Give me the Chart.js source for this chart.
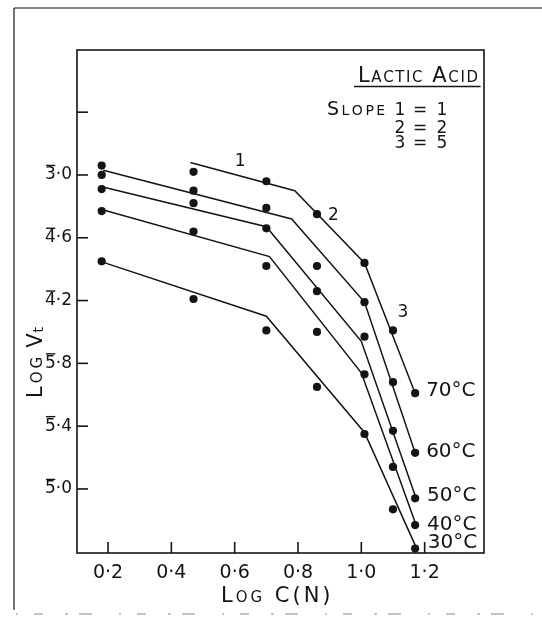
<!DOCTYPE html>
<html>
<head>
<meta charset="utf-8">
<script src="https://cdn.jsdelivr.net/npm/chart.js@4.4.1/dist/chart.umd.min.js"></script>
<style>
  html, body { margin: 0; padding: 0; background: #fff; }
</style>
</head>
<body>
<canvas id="myChart" width="542" height="623"></canvas>
<script>
//log C (N) of the measured columns
let logC = [0.18, 0.47, 0.70, 0.86, 1.01, 1.10, 1.17];

//measured log Vt, one list per temperature
let vt70 = [-2.94, -2.98, -3.04, -3.25, -3.56, -3.99, -4.39];
let vt60 = [-3.00, -3.10, -3.21, -3.58, -3.81, -4.32, -4.77];
let vt50 = [-3.09, -3.18, -3.34, -3.74, -4.03, -4.63, -5.06];
let vt40 = [-3.23, -3.36, -3.58, -4.00, -4.27, -4.86, -5.23];
let vt30 = [-3.55, -3.79, -3.99, -4.35, -4.65, -5.13, -5.38];

//drawn lines, three straight pieces each (slopes 1, 2, 5)
let fitX70 = [0.46, 0.79, 1.01, 1.17];
let fitY70 = [-2.92, -3.10, -3.56, -4.39];
let fitX60 = [0.185, 0.78, 1.01, 1.17];
let fitY60 = [-2.97, -3.28, -3.81, -4.77];
let fitX50 = [0.19, 0.70, 1.00, 1.173];
let fitY50 = [-3.08, -3.33, -4.06, -5.06];
let fitX40 = [0.18, 0.71, 1.00, 1.173];
let fitY40 = [-3.22, -3.52, -4.26, -5.23];
let fitX30 = [0.19, 0.70, 1.01, 1.175];
let fitY30 = [-3.56, -3.90, -4.64, -5.38];

let temps = ['70°C', '60°C', '50°C', '40°C', '30°C'];

//axis ticks (the first digit of a y label carries a bar: 3̄·0 = -3.0)
let xTicks = [0.2, 0.4, 0.6, 0.8, 1.0, 1.2];
let xTickLabels = ['0·2', '0·4', '0·6', '0·8', '1·0', '1·2'];
let yTicks = [-2.6, -3.0, -3.4, -3.8, -4.2, -4.6, -5.0];
let yTickLabels = ['', '3·0', '4·6', '4·2', '5·8', '5·4', '5·0'];

let measured = [vt70, vt60, vt50, vt40, vt30];
let fitX = [fitX70, fitX60, fitX50, fitX40, fitX30];
let fitY = [fitY70, fitY60, fitY50, fitY40, fitY30];

const ink = '#141414';
const FAM = '"DejaVu Sans", sans-serif';

function toPoints(xs, ys) {
    return xs.map((x, i) => ({ x: x, y: ys[i] }));
}

//small caps: capitals big, lower case drawn as small capitals
function drawCaps(ctx, text, x, y, big, small, sp) {
    let cx = x;
    for (const ch of text) {
        const up = ch.toUpperCase();
        ctx.font = (ch === up ? big : small) + 'px ' + FAM;
        ctx.fillText(up, cx, y);
        cx += ctx.measureText(up).width + sp;
    }
    return cx;
}

function line(ctx, x1, y1, x2, y2) {
    ctx.beginPath();
    ctx.moveTo(x1, y1);
    ctx.lineTo(x2, y2);
    ctx.stroke();
}

let datasets = [];
for (let i = 0; i < temps.length; i++) {
    datasets.push({
        label: temps[i] + ' line',
        data: toPoints(fitX[i], fitY[i]),
        showLine: true,
        pointRadius: 0,
        borderColor: ink,
        borderWidth: 1.5,
        tension: 0,
        clip: 8,
    });
    datasets.push({
        label: temps[i],
        data: toPoints(logC, measured[i]),
        showLine: false,
        pointRadius: 4.1,
        pointBackgroundColor: ink,
        pointBorderWidth: 0,
        clip: 8,
    });
}

//frame, inward ticks and hand lettering
const paperPlugin = {
    id: 'paper',
    afterDraw(chart) {
        const ctx = chart.ctx;
        const a = chart.chartArea;
        const xs = chart.scales.x;
        const ys = chart.scales.y;
        ctx.save();
        ctx.strokeStyle = ink;
        ctx.fillStyle = ink;

        //scan border
        ctx.lineWidth = 1.2;
        line(ctx, 14, 8, 14, 610);
        line(ctx, 14, 8, 542, 8);
        ctx.strokeStyle = '#888';
        ctx.lineWidth = 1.2;
        ctx.setLineDash([2, 16, 9, 22, 3, 11, 13, 27]);
        line(ctx, 16, 614, 542, 614);
        ctx.setLineDash([]);
        ctx.strokeStyle = ink;

        //plot frame
        ctx.lineWidth = 1.6;
        ctx.strokeRect(a.left, a.top, a.right - a.left, a.bottom - a.top);

        //ticks pointing into the plot
        xTicks.forEach(v => {
            const px = xs.getPixelForValue(v);
            line(ctx, px, a.bottom, px, a.bottom - 11);
        });
        yTicks.forEach(v => {
            const py = ys.getPixelForValue(v);
            line(ctx, a.left, py, a.left + 11, py);
        });

        //bars over the characteristic digit
        ctx.font = '17px ' + FAM;
        ctx.lineWidth = 1.4;
        yTicks.forEach((v, i) => {
            const lab = yTickLabels[i];
            if (!lab) return;
            const py = ys.getPixelForValue(v);
            const x0 = a.left - 5 - ctx.measureText(lab).width;
            const dw = ctx.measureText(lab[0]).width;
            line(ctx, x0 + 1, py - 9.5, x0 + dw - 0.5, py - 9.5);
        });

        ctx.textBaseline = 'alphabetic';
        ctx.textAlign = 'left';

        //title
        const end = drawCaps(ctx, 'Lactic Acid', 358, 82, 21, 15, 1.6);
        ctx.lineWidth = 1.5;
        line(ctx, 354, 86.5, end + 1, 86.5);

        drawCaps(ctx, 'Slope', 327, 115, 19, 14, 2.5);
        ctx.font = '17px ' + FAM;
        ctx.textAlign = 'center';
        [['1', '1', 115], ['2', '2', 133], ['3', '5', 148]].forEach(r => {
            ctx.fillText(r[0], 400, r[2]);
            ctx.fillText('=', 420, r[2]);
            ctx.fillText(r[1], 442, r[2]);
        });

        //segment numbers on the 70°C line
        ctx.textBaseline = 'middle';
        ctx.font = '17px ' + FAM;
        [['1', 0.617, -2.915], ['2', 0.912, -3.261], ['3', 1.131, -3.876]].forEach(s => {
            ctx.fillText(s[0], xs.getPixelForValue(s[1]), ys.getPixelForValue(s[2]));
        });

        //temperature labels at the line ends
        const dy = [-2, -1, -3, 0, -6];
        ctx.textAlign = 'left';
        ctx.font = '20px ' + FAM;
        temps.forEach((t, i) => {
            const px = xs.getPixelForValue(fitX[i][3]) + 11;
            const py = ys.getPixelForValue(fitY[i][3]) + dy[i];
            ctx.fillText(t, px, py);
        });

        //axis titles
        ctx.textBaseline = 'alphabetic';
        drawCaps(ctx, 'Log C(N)', 221, 602, 21, 15, 3);

        ctx.translate(42, 398);
        ctx.rotate(-Math.PI / 2);
        let cx = drawCaps(ctx, 'Log', 0, 0, 21, 15, 3);
        cx = drawCaps(ctx, 'V', cx + 6, 0, 21, 15, 1);
        ctx.font = '14px ' + FAM;
        ctx.fillText('t', cx, 1);
        ctx.restore();
    }
};

function renderChart() {
    const ctx = document.getElementById('myChart');
    new Chart(ctx, {
        type: 'scatter',
        data: { datasets: datasets },
        options: {
            responsive: false,
            animation: false,
            layout: { padding: { left: 0, top: 50, right: 58, bottom: 0 } },
            plugins: {
                legend: { display: false },
                tooltip: { enabled: false },
            },
            scales: {
                x: {
                    type: 'linear',
                    min: 0.102,
                    max: 1.3875,
                    afterBuildTicks: s => { s.ticks = xTicks.map(v => ({ value: v })); },
                    afterFit: s => { s.height = 70; },
                    grid: { display: false, drawTicks: false },
                    border: { display: false },
                    ticks: {
                        autoSkip: false,
                        maxRotation: 0,
                        padding: 9,
                        color: ink,
                        font: { family: FAM, size: 19 },
                        callback: (v, i) => xTickLabels[i],
                    },
                },
                y: {
                    type: 'linear',
                    min: -5.408,
                    max: -2.204,
                    afterBuildTicks: s => { s.ticks = yTicks.map(v => ({ value: v })); },
                    afterFit: s => { s.width = 77; },
                    grid: { display: false, drawTicks: false },
                    border: { display: false },
                    ticks: {
                        autoSkip: false,
                        padding: 5,
                        color: ink,
                        font: { family: FAM, size: 17 },
                        callback: (v, i) => yTickLabels[i],
                    },
                },
            },
        },
        plugins: [paperPlugin],
    });
}

renderChart();
</script>
</body>
</html>
